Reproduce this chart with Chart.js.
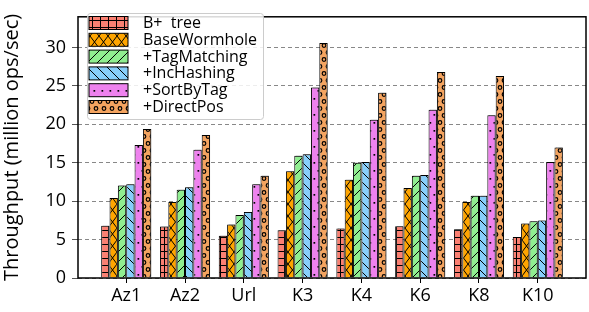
<!DOCTYPE html>
<html><head><meta charset="utf-8">
<script src="https://cdn.jsdelivr.net/npm/chart.js@4/dist/chart.umd.min.js"></script>
<style>html,body{margin:0;padding:0;background:#fff}#wrap{width:589px;height:312px;position:relative}</style>
</head><body><div id="wrap"><canvas id="c" width="589" height="312"></canvas></div>
<script>
const categories = ["Az1","Az2","Url","K3","K4","K6","K8","K10"];
const seriesNames = ["B+  tree","BaseWormhole","+TagMatching","+IncHashing","+SortByTag","+DirectPos"];
const bplusTree    = [6.8, 6.7, 5.5, 6.2, 6.45, 6.75, 6.35, 5.35];
const baseWormhole = [10.4, 9.9, 6.95, 13.9, 12.8, 11.7, 9.9, 7.1];
const tagMatching  = [12.05, 11.5, 8.2, 15.9, 15.0, 13.3, 10.7, 7.4];
const incHashing   = [12.2, 11.8, 8.6, 16.1, 15.1, 13.4, 10.7, 7.5];
const sortByTag    = [17.3, 16.7, 12.2, 24.8, 20.6, 21.9, 21.2, 15.1];
const directPos    = [19.4, 18.6, 13.3, 30.6, 24.1, 26.8, 26.3, 17.0];
const yTicks = [0,5,10,15,20,25,30];

const FONT = "'Open Sans', 'DejaVu Sans', sans-serif";
const colors = ["#fa8072","#ffa500","#90ee90","#87cefa","#ee82ee","#f4a460"];
const hatches = ["+","x","/","\\",".","o"];

function makePattern(bg, type){
  const c = document.createElement('canvas');
  let w=10,h=10;
  if(type==="+"){w=8;h=7;}
  if(type==="x"){w=9;h=12;}
  if(type==="/"||type==="\\"){w=10;h=10;}
  if(type==="."){w=8;h=16;}
  if(type==="o"){w=8;h=14;}
  c.width=w; c.height=h;
  const g=c.getContext('2d');
  g.fillStyle=bg; g.fillRect(0,0,w,h);
  g.strokeStyle="#000"; g.fillStyle="#000"; g.lineWidth=1;
  g.beginPath();
  if(type==="+"){
    g.moveTo(0,h-0.5); g.lineTo(w,h-0.5);
    g.moveTo(w/2+0.5,0); g.lineTo(w/2+0.5,h);
    g.stroke();
  } else if(type==="x"){
    g.moveTo(0,0); g.lineTo(w,h);
    g.moveTo(w,0); g.lineTo(0,h);
    g.stroke();
  } else if(type==="/"){
    g.moveTo(0,h); g.lineTo(w,0);
    g.moveTo(-w,h); g.lineTo(w,-h);
    g.moveTo(0,2*h); g.lineTo(2*w,0);
    g.stroke();
  } else if(type==="\\"){
    g.moveTo(0,0); g.lineTo(w,h);
    g.moveTo(-w,0); g.lineTo(w,2*h);
    g.moveTo(0,-h); g.lineTo(2*w,h);
    g.stroke();
  } else if(type==="."){
    g.fillRect(1.5,2,1.7,1.7);
    g.fillRect(5.5,10,1.7,1.7);
  } else if(type==="o"){
    g.lineWidth=1.2;
    g.arc(4,3.5,1.8,0,Math.PI*2); g.stroke();
    g.beginPath(); g.arc(0,10.5,1.8,0,Math.PI*2); g.stroke();
    g.beginPath(); g.arc(8,10.5,1.8,0,Math.PI*2); g.stroke();
  }
  return g.createPattern(c,'repeat');
}
const patterns = colors.map((col,i)=>makePattern(col,hatches[i]));
const seriesData = [bplusTree, baseWormhole, tagMatching, incHashing, sortByTag, directPos];

const datasets = seriesData.map((arr,i)=>({
  label: seriesNames[i],
  data: arr.map((v,j)=>({x:j,y:v})),
  backgroundColor: patterns[i],
  borderColor: "#000",
  borderWidth: 1,
  borderSkipped: 'bottom',
  categoryPercentage: 0.852,
  barPercentage: 1.0
}));

const shadowPlugin = {
  id:'shadow',
  beforeDatasetsDraw(chart){
    const ctx=chart.ctx; ctx.save();
    ctx.shadowColor='rgba(0,0,0,0.35)';
    ctx.shadowOffsetX=1.5; ctx.shadowOffsetY=-1.2; ctx.shadowBlur=0;
  },
  afterDatasetsDraw(chart){ chart.ctx.restore(); }
};

const framePlugin = {
  id:'frame',
  afterDraw(chart){
    const {ctx, chartArea:a} = chart;
    ctx.save();
    ctx.strokeStyle="#000"; ctx.lineWidth=1.5;
    ctx.strokeRect(a.left, a.top, a.right-a.left, a.bottom-a.top);
    const lx=87.5, ly=13.5, lw=176, lh=106;
    ctx.fillStyle='rgba(255,255,255,0.85)';
    ctx.strokeStyle='#cccccc'; ctx.lineWidth=1;
    ctx.beginPath(); ctx.roundRect(lx,ly,lw,lh,3); ctx.fill(); ctx.stroke();
    ctx.font = "16px "+FONT;
    ctx.textBaseline='middle';
    for(let i=0;i<seriesNames.length;i++){
      const py = 16.5 + i*16.8;
      ctx.fillStyle=patterns[i];
      ctx.fillRect(89, py, 39, 13);
      ctx.strokeStyle='#000'; ctx.lineWidth=1;
      ctx.strokeRect(89, py, 39, 13);
      ctx.fillStyle='#000';
      ctx.fillText(seriesNames[i], 143, py+7);
    }
    ctx.restore();
  }
};

new Chart(document.getElementById('c'), {
  type:'bar',
  data:{datasets},
  plugins:[shadowPlugin, framePlugin],
  options:{
    responsive:false, animation:false,
    layout:{padding:{left:0,right:3,top:4,bottom:0}},
    plugins:{legend:{display:false}, tooltip:{enabled:false}},
    scales:{
      x:{
        type:'linear', min:-0.82, max:7.82, offset:false,
        afterBuildTicks(s){ s.ticks = categories.map((_,i)=>({value:i})); },
        afterFit(s){ s.height = 34; },
        grid:{offset:false, drawOnChartArea:false, drawTicks:true, tickLength:5, tickColor:'#000', tickWidth:1},
        border:{display:false},
        ticks:{autoSkip:false, maxRotation:0, padding:2, color:'#000',
          font:{family:FONT, size:18},
          callback:(v)=>categories[v] ?? ''}
      },
      y:{
        min:0, max:34,
        afterBuildTicks(s){ s.ticks = yTicks.map(v=>({value:v})); },
        afterFit(s){ s.width = 78; },
        grid:{color:'#888', lineWidth:1, drawTicks:true, tickLength:6, tickColor:'#555', tickWidth:1},
        border:{display:false, dash:[4,3]},
        ticks:{padding:6, color:'#000', font:{family:FONT, size:18}},
        title:{display:true, text:'Throughput (million ops/sec)', color:'#000',
          font:{family:FONT, size:20}, padding:{top:0,bottom:0}}
      }
    }
  }
});
</script></body></html>
